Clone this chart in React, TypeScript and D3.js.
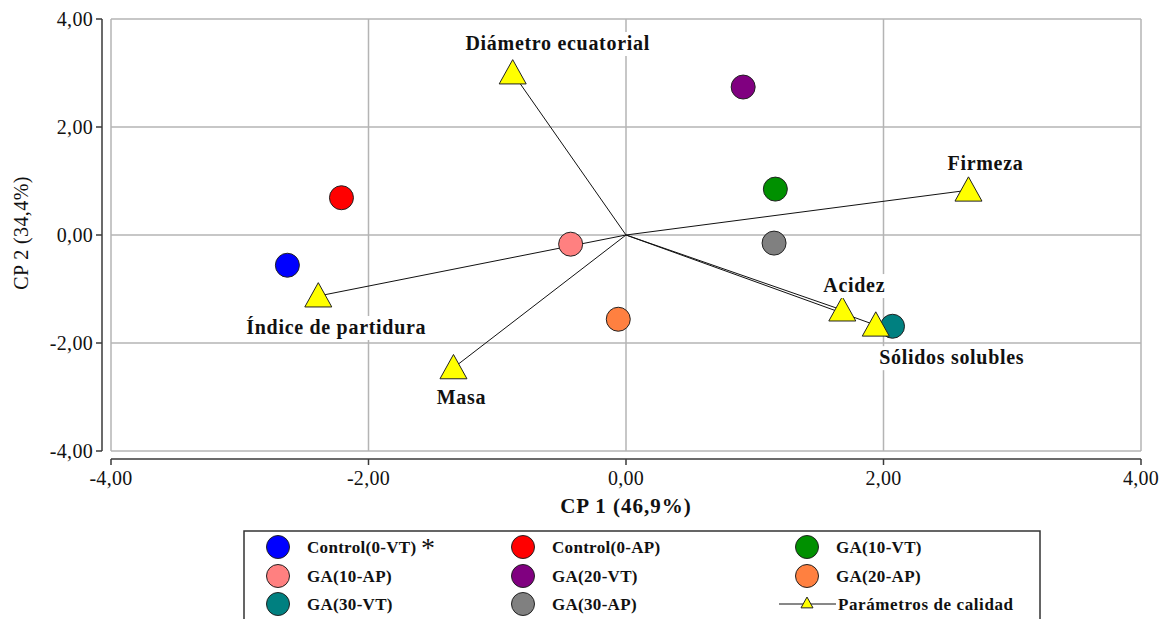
import React from "react";
import * as d3 from "d3";

// Principal component scores for each treatment
const treatments = [
  "Control(0-VT)",
  "Control(0-AP)",
  "GA(10-VT)",
  "GA(10-AP)",
  "GA(20-VT)",
  "GA(20-AP)",
  "GA(30-VT)",
  "GA(30-AP)",
];
const treatmentCP1 = [-2.63, -2.21, 1.16, -0.43, 0.91, -0.06, 2.07, 1.15];
const treatmentCP2 = [-0.56, 0.69, 0.85, -0.17, 2.74, -1.56, -1.69, -0.15];
const treatmentColors = [
  "#0000ff",
  "#ff0000",
  "#009000",
  "#ff8080",
  "#800080",
  "#ff8040",
  "#008080",
  "#808080",
];

// Quality parameter loadings (vectors from the origin)
const parameters = [
  "Diámetro ecuatorial",
  "Firmeza",
  "Índice de partidura",
  "Masa",
  "Acidez",
  "Sólidos solubles",
];
const parameterCP1 = [-0.88, 2.66, -2.39, -1.34, 1.68, 1.94];
const parameterCP2 = [3.0, 0.83, -1.13, -2.46, -1.39, -1.67];

const xTicks = [-4, -2, 0, 2, 4];
const yTicks = [-4, -2, 0, 2, 4];
const xTitle = "CP 1 (46,9%)";
const yTitle = "CP 2 (34,4%)";
const parameterLegend = "Parámetros de calidad";

// Label placement relative to each parameter marker
const labelOffsets: Record<string, [number, number]> = {
  "Diámetro ecuatorial": [45, -23],
  Firmeza: [17, -20],
  "Índice de partidura": [18, 38],
  Masa: [8, 36],
  Acidez: [12, -18],
  "Sólidos solubles": [76, 39],
};

const FONT = "'Liberation Serif', 'Times New Roman', serif";

const fmt = (v: number) => v.toFixed(2).replace(".", ",");

const triPath = (s: number) => {
  const h = s * 0.9;
  return `M0,${-h * 0.55}L${s / 2},${h * 0.45}L${-s / 2},${h * 0.45}Z`;
};

export default function App() {
  const left = 111;
  const right = 1141;
  const top = 19;
  const bottom = 451;

  const x = d3.scaleLinear().domain([-4, 4]).range([left, right]);
  const y = d3.scaleLinear().domain([-4, 4]).range([bottom, top]);

  const gridColor = "#b4b4b4";
  const axisColor = "#3a3a3a";

  const legendCols = [278, 523, 807];
  const legendRows = [547, 576, 604];

  return (
    <div style={{ position: "absolute", left: 0, top: 0 }}>
      <svg width={1169} height={619} style={{ display: "block", fontFamily: FONT }}>
        <rect x={0} y={0} width={1169} height={619} fill="#fff" />

        {/* grid */}
        {xTicks.map((t) => (
          <line key={"gx" + t} x1={x(t)} x2={x(t)} y1={top} y2={bottom} stroke={gridColor} strokeWidth={1.5} />
        ))}
        {yTicks.map((t) => (
          <line key={"gy" + t} x1={left} x2={right} y1={y(t)} y2={y(t)} stroke={gridColor} strokeWidth={1.5} />
        ))}

        {/* y axis */}
        <line x1={102} x2={102} y1={top} y2={bottom} stroke={axisColor} strokeWidth={1.5} />
        {yTicks.map((t) => (
          <g key={"ty" + t}>
            <line x1={96} x2={102} y1={y(t)} y2={y(t)} stroke={axisColor} strokeWidth={1.5} />
            <text x={93} y={y(t)} dy="0.35em" textAnchor="end" fontSize={20} letterSpacing={0.3} fill="#111">
              {fmt(t)}
            </text>
          </g>
        ))}

        {/* x axis */}
        <line x1={left} x2={right} y1={459} y2={459} stroke={axisColor} strokeWidth={1.5} />
        {xTicks.map((t) => (
          <g key={"tx" + t}>
            <line x1={x(t)} x2={x(t)} y1={459} y2={465} stroke={axisColor} strokeWidth={1.5} />
            <text x={x(t)} y={485} textAnchor="middle" fontSize={20} letterSpacing={0.3} fill="#111">
              {fmt(t)}
            </text>
          </g>
        ))}

        <text x={x(0)} y={513} textAnchor="middle" fontSize={21} letterSpacing={1} fontWeight="bold" fill="#111">
          {xTitle}
        </text>
        <text
          transform={`translate(28,${y(0) - 2}) rotate(-90)`}
          textAnchor="middle"
          fontSize={20}
          letterSpacing={0.4}
          fill="#111"
        >
          {yTitle}
        </text>

        {/* loading vectors */}
        {parameters.map((p, i) => (
          <line
            key={"v" + p}
            x1={x(0)}
            y1={y(0)}
            x2={x(parameterCP1[i])}
            y2={y(parameterCP2[i])}
            stroke="#111"
            strokeWidth={1}
          />
        ))}

        {/* treatment scores */}
        {treatments.map((t, i) => (
          <circle
            key={"c" + t}
            cx={x(treatmentCP1[i])}
            cy={y(treatmentCP2[i])}
            r={12}
            fill={treatmentColors[i]}
            stroke="#222"
            strokeWidth={1}
          />
        ))}

        {/* parameter markers */}
        {parameters.map((p, i) => (
          <path
            key={"m" + p}
            d={triPath(27)}
            transform={`translate(${x(parameterCP1[i])},${y(parameterCP2[i])})`}
            fill="#ffff00"
            stroke="#222"
            strokeWidth={1}
          />
        ))}

        {/* parameter labels */}
        {parameters.map((p, i) => {
          const [dx, dy] = labelOffsets[p];
          const cx = x(parameterCP1[i]) + dx;
          const by = y(parameterCP2[i]) + dy;
          const w = p.length * 10.4;
          return (
            <g key={"l" + p}>
              <rect x={cx - w / 2 - 3} y={by - 18} width={w + 6} height={24} fill="#fff" />
              <text x={cx} y={by} textAnchor="middle" fontSize={20} letterSpacing={0.7} fontWeight="bold" fill="#111">
                {p}
              </text>
            </g>
          );
        })}

        {/* legend */}
        <rect x={244} y={531} width={796} height={100} fill="#fff" stroke="#333" strokeWidth={1.5} />
        {treatments.map((t, i) => {
          const cx = legendCols[i % 3];
          const cy = legendRows[Math.floor(i / 3)];
          return (
            <g key={"lg" + t}>
              <circle cx={cx} cy={cy} r={11.5} fill={treatmentColors[i]} stroke="#222" strokeWidth={1} />
              <text x={cx + 29} y={cy} dy="0.35em" fontSize={17} letterSpacing={0.3} fontWeight="bold" fill="#111">
                {t}
              </text>
            </g>
          );
        })}
        <text x={428} y={557} textAnchor="middle" fontSize={28} fill="#111">
          *
        </text>
        <line x1={779} x2={836} y1={604} y2={604} stroke="#111" strokeWidth={1} />
        <path d={triPath(12)} transform="translate(807,603)" fill="#ffff00" stroke="#222" strokeWidth={1} />
        <text x={838} y={604} dy="0.35em" fontSize={17} letterSpacing={0.6} fontWeight="bold" fill="#111">
          {parameterLegend}
        </text>
      </svg>
    </div>
  );
}
